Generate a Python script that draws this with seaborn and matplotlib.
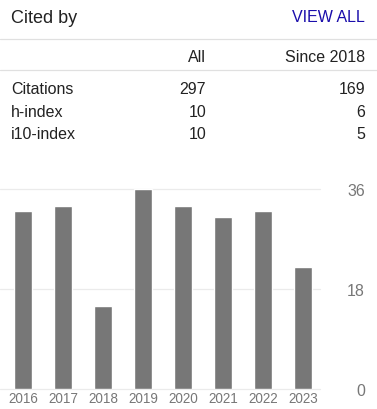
import matplotlib
matplotlib.use("Agg")
import matplotlib.pyplot as plt
import seaborn as sns
import pandas as pd
from matplotlib.lines import Line2D

years = ["2016", "2017", "2018", "2019", "2020", "2021", "2022", "2023"]
citations = [32, 33, 15, 36, 33, 31, 32, 22]
yticks = [0, 18, 36]

row_labels = ["Citations", "h-index", "i10-index"]
col_all = ["297", "10", "10"]
col_since = ["169", "6", "5"]
col_headers = ["All", "Since 2018"]
title = "Cited by"
link = "VIEW ALL"

sns.set_theme(style="white")
plt.rcParams['font.family'] = ['Liberation Sans', 'DejaVu Sans']

W, H = 377, 410
fig = plt.figure(figsize=(W / 100, H / 100), dpi=100)

def fx(px):
    return px / W

def fy(py):
    return 1 - py / H

TXT = '#222222'
PX = 0.72  # pt per px

# header
fig.text(fx(11), fy(23.3), title, fontsize=18 * PX, color=TXT, va='baseline', ha='left')
fig.text(fx(365), fy(22.3), link, fontsize=16 * PX, color='#1a0dab', va='baseline', ha='right')

for y in (40, 71):
    fig.add_artist(Line2D([0, 1], [fy(y), fy(y)], transform=fig.transFigure,
                          color='#e0e0e0', lw=1.2 * PX))

fig.text(fx(206), fy(62.3), col_headers[0], fontsize=16 * PX, color=TXT, va='baseline', ha='right')
fig.text(fx(365), fy(62.3), col_headers[1], fontsize=16 * PX, color=TXT, va='baseline', ha='right')

row_base = [94, 116.7, 139.3]
for lab, a, s, b in zip(row_labels, col_all, col_since, row_base):
    fig.text(fx(11), fy(b), lab, fontsize=16 * PX, color=TXT, va='baseline', ha='left')
    fig.text(fx(206), fy(b), a, fontsize=16 * PX, color=TXT, va='baseline', ha='right')
    fig.text(fx(365), fy(b), s, fontsize=16 * PX, color=TXT, va='baseline', ha='right')

# chart
ax = fig.add_axes([0, fy(390), 320 / W, 200 / H])
df = pd.DataFrame({"year": years, "citations": citations})
sns.barplot(data=df, x="year", y="citations", color="#777777", saturation=1,
            width=0.45, ax=ax)
ax.set_xlim(-0.575, 7.425)
ax.set_ylim(0, 36)
ax.set_yticks(yticks)
ax.set_yticklabels([str(t) for t in yticks])
ax.set_xlabel("")
ax.set_ylabel("")
for sp in ax.spines.values():
    sp.set_visible(False)
ax.grid(axis='y', color='#ebebeb', lw=1.2 * PX)
ax.grid(axis='x', visible=False)
ax.set_axisbelow(True)
for gl in ax.get_ygridlines():
    gl.set_clip_on(False)
ax.tick_params(axis='y', left=False, right=False, labelleft=False, labelright=True,
               length=0, pad=45 * PX, labelsize=16 * PX, labelcolor='#777777')
for t in ax.get_yticklabels():
    t.set_horizontalalignment('right')
ax.tick_params(axis='x', bottom=False, length=0, pad=2 * PX, labelsize=13.5 * PX,
               labelcolor='#777777')
ax.patch.set_alpha(0)

fig.savefig("out.png", dpi=100)
